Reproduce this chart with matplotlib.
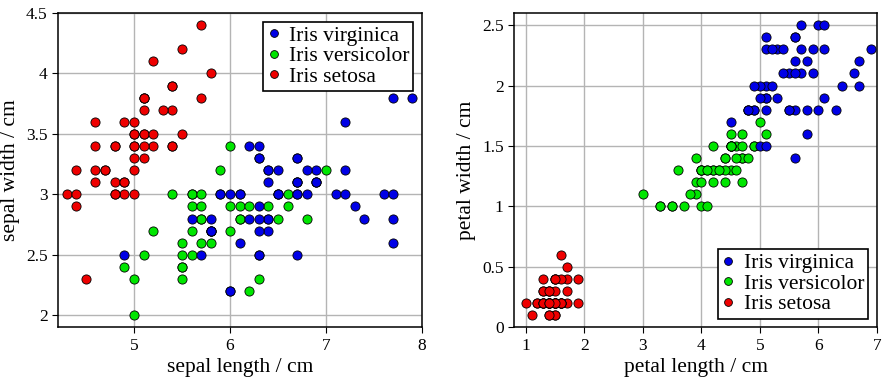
import matplotlib
matplotlib.use("Agg")
import matplotlib.pyplot as plt

# Fisher's iris data
setosa_sl = [5.1, 4.9, 4.7, 4.6, 5.0, 5.4, 4.6, 5.0, 4.4, 4.9, 5.4, 4.8, 4.8, 4.3, 5.8, 5.7, 5.4,
             5.1, 5.7, 5.1, 5.4, 5.1, 4.6, 5.1, 4.8, 5.0, 5.0, 5.2, 5.2, 4.7, 4.8, 5.4, 5.2, 5.5,
             4.9, 5.0, 5.5, 4.9, 4.4, 5.1, 5.0, 4.5, 4.4, 5.0, 5.1, 4.8, 5.1, 4.6, 5.3, 5.0]
setosa_sw = [3.5, 3.0, 3.2, 3.1, 3.6, 3.9, 3.4, 3.4, 2.9, 3.1, 3.7, 3.4, 3.0, 3.0, 4.0, 4.4, 3.9,
             3.5, 3.8, 3.8, 3.4, 3.7, 3.6, 3.3, 3.4, 3.0, 3.4, 3.5, 3.4, 3.2, 3.1, 3.4, 4.1, 4.2,
             3.1, 3.2, 3.5, 3.6, 3.0, 3.4, 3.5, 2.3, 3.2, 3.5, 3.8, 3.0, 3.8, 3.2, 3.7, 3.3]
setosa_pl = [1.4, 1.4, 1.3, 1.5, 1.4, 1.7, 1.4, 1.5, 1.4, 1.5, 1.5, 1.6, 1.4, 1.1, 1.2, 1.5, 1.3,
             1.4, 1.7, 1.5, 1.7, 1.5, 1.0, 1.7, 1.9, 1.6, 1.6, 1.5, 1.4, 1.6, 1.6, 1.5, 1.5, 1.4,
             1.5, 1.2, 1.3, 1.4, 1.3, 1.5, 1.3, 1.3, 1.3, 1.6, 1.9, 1.4, 1.6, 1.4, 1.5, 1.4]
setosa_pw = [0.2, 0.2, 0.2, 0.2, 0.2, 0.4, 0.3, 0.2, 0.2, 0.1, 0.2, 0.2, 0.1, 0.1, 0.2, 0.4, 0.4,
             0.3, 0.3, 0.3, 0.2, 0.4, 0.2, 0.5, 0.2, 0.2, 0.4, 0.2, 0.2, 0.2, 0.2, 0.4, 0.1, 0.2,
             0.2, 0.2, 0.2, 0.1, 0.2, 0.2, 0.3, 0.3, 0.2, 0.6, 0.4, 0.3, 0.2, 0.2, 0.2, 0.2]

versicolor_sl = [7.0, 6.4, 6.9, 5.5, 6.5, 5.7, 6.3, 4.9, 6.6, 5.2, 5.0, 5.9, 6.0, 6.1, 5.6, 6.7, 5.6,
                 5.8, 6.2, 5.6, 5.9, 6.1, 6.3, 6.1, 6.4, 6.6, 6.8, 6.7, 6.0, 5.7, 5.5, 5.5, 5.8, 6.0,
                 5.4, 6.0, 6.7, 6.3, 5.6, 5.5, 5.5, 6.1, 5.8, 5.0, 5.6, 5.7, 5.7, 6.2, 5.1, 5.7]
versicolor_sw = [3.2, 3.2, 3.1, 2.3, 2.8, 2.8, 3.3, 2.4, 2.9, 2.7, 2.0, 3.0, 2.2, 2.9, 2.9, 3.1, 3.0,
                 2.7, 2.2, 2.5, 3.2, 2.8, 2.5, 2.8, 2.9, 3.0, 2.8, 3.0, 2.9, 2.6, 2.4, 2.4, 2.7, 2.7,
                 3.0, 3.4, 3.1, 2.3, 3.0, 2.5, 2.6, 3.0, 2.6, 2.3, 2.7, 3.0, 2.9, 2.9, 2.5, 2.8]
versicolor_pl = [4.7, 4.5, 4.9, 4.0, 4.6, 4.5, 4.7, 3.3, 4.6, 3.9, 3.5, 4.2, 4.0, 4.7, 3.6, 4.4, 4.5,
                 4.1, 4.5, 3.9, 4.8, 4.0, 4.9, 4.7, 4.3, 4.4, 4.8, 5.0, 4.5, 3.5, 3.8, 3.7, 3.9, 5.1,
                 4.5, 4.5, 4.7, 4.4, 4.1, 4.0, 4.4, 4.6, 4.0, 3.3, 4.2, 4.2, 4.2, 4.3, 3.0, 4.1]
versicolor_pw = [1.4, 1.5, 1.5, 1.3, 1.5, 1.3, 1.6, 1.0, 1.3, 1.4, 1.0, 1.5, 1.0, 1.4, 1.3, 1.4, 1.5,
                 1.0, 1.5, 1.1, 1.8, 1.3, 1.5, 1.2, 1.3, 1.4, 1.4, 1.7, 1.5, 1.0, 1.1, 1.0, 1.2, 1.6,
                 1.5, 1.6, 1.5, 1.3, 1.3, 1.3, 1.2, 1.4, 1.2, 1.0, 1.3, 1.2, 1.3, 1.3, 1.1, 1.3]

virginica_sl = [6.3, 5.8, 7.1, 6.3, 6.5, 7.6, 4.9, 7.3, 6.7, 7.2, 6.5, 6.4, 6.8, 5.7, 5.8, 6.4, 6.5,
                7.7, 7.7, 6.0, 6.9, 5.6, 7.7, 6.3, 6.7, 7.2, 6.2, 6.1, 6.4, 7.2, 7.4, 7.9, 6.4, 6.3,
                6.1, 7.7, 6.3, 6.4, 6.0, 6.9, 6.7, 6.9, 5.8, 6.8, 6.7, 6.7, 6.3, 6.5, 6.2, 5.9]
virginica_sw = [3.3, 2.7, 3.0, 2.9, 3.0, 3.0, 2.5, 2.9, 2.5, 3.6, 3.2, 2.7, 3.0, 2.5, 2.8, 3.2, 3.0,
                3.8, 2.6, 2.2, 3.2, 2.8, 2.8, 2.7, 3.3, 3.2, 2.8, 3.0, 2.8, 3.0, 2.8, 3.8, 2.8, 2.8,
                2.6, 3.0, 3.4, 3.1, 3.0, 3.1, 3.1, 3.1, 2.7, 3.2, 3.3, 3.0, 2.5, 3.0, 3.4, 3.0]
virginica_pl = [6.0, 5.1, 5.9, 5.6, 5.8, 6.6, 4.5, 6.3, 5.8, 6.1, 5.1, 5.3, 5.5, 5.0, 5.1, 5.3, 5.5,
                6.7, 6.9, 5.0, 5.7, 4.9, 6.7, 4.9, 5.7, 6.0, 4.8, 4.9, 5.6, 5.8, 6.1, 6.4, 5.6, 5.1,
                5.6, 6.1, 5.6, 5.5, 4.8, 5.4, 5.6, 5.1, 5.1, 5.9, 5.7, 5.2, 5.0, 5.2, 5.4, 5.1]
virginica_pw = [2.5, 1.9, 2.1, 1.8, 2.2, 2.1, 1.7, 1.8, 1.8, 2.5, 2.0, 1.9, 2.1, 2.0, 2.4, 2.3, 1.8,
                2.2, 2.3, 1.5, 2.3, 2.0, 2.0, 1.8, 2.1, 1.8, 1.8, 1.8, 2.1, 1.6, 1.9, 2.0, 2.2, 1.5,
                1.4, 2.3, 2.4, 1.8, 1.8, 2.1, 2.4, 2.3, 1.9, 2.3, 2.5, 2.3, 1.9, 2.0, 2.3, 1.8]

species = ["Iris setosa", "Iris versicolor", "Iris virginica"]
colors = ["#ee0000", "#00e600", "#0000e6"]

plt.rcParams['font.family'] = ['Liberation Serif', 'DejaVu Serif']
plt.rcParams['xtick.direction'] = 'out'
plt.rcParams['ytick.direction'] = 'out'


def panel(ax, xs, ys, xlabel, ylabel, loc):
    # setosa first, virginica last so blue sits on top; legend reversed
    for x, y, name, c in zip(xs, ys, species, colors):
        ax.plot(x, y, 'o', color=c, markersize=6.6, markeredgecolor='black',
                markeredgewidth=0.6, label=name, zorder=3)
    ax.grid(True, color='#b4b4b4', linewidth=1.0, zorder=0)
    ax.set_axisbelow(True)
    ax.set_xlabel(xlabel, fontsize=15.5, labelpad=3)
    ax.set_ylabel(ylabel, fontsize=15.5, labelpad=4)
    ax.tick_params(labelsize=12.5, length=4, width=0.8, top=False, right=False)
    for s in ax.spines.values():
        s.set_linewidth(1.1)
    h, l = ax.get_legend_handles_labels()
    leg = ax.legend(h[::-1], l[::-1], loc=loc, fontsize=15.5, fancybox=False,
                    edgecolor='black', framealpha=1, handlelength=0.6,
                    handletextpad=0.4, borderpad=0.2, labelspacing=0.02,
                    markerscale=0.85, borderaxespad=0.4)
    leg.get_frame().set_linewidth(1.2)


fig = plt.figure(figsize=(8.82, 3.79), dpi=100)
ax1 = fig.add_axes([0.0658, 0.1364, 0.4127, 0.8293])
ax2 = fig.add_axes([0.5828, 0.1364, 0.4115, 0.8293])

panel(ax1, [setosa_sl, versicolor_sl, virginica_sl],
      [setosa_sw, versicolor_sw, virginica_sw],
      "sepal length / cm", "sepal width / cm", "upper right")
ax1.set_xlim(4.21, 8)
ax1.set_ylim(1.9, 4.5)
ax1.set_xticks([5, 6, 7, 8])
ax1.set_xticklabels(["5", "6", "7", "8"])
ax1.set_yticks([2, 2.5, 3, 3.5, 4, 4.5])
ax1.set_yticklabels(["2", "2.5", "3", "3.5", "4", "4.5"])

panel(ax2, [setosa_pl, versicolor_pl, virginica_pl],
      [setosa_pw, versicolor_pw, virginica_pw],
      "petal length / cm", "petal width / cm", "lower right")
ax2.set_xlim(0.8, 7)
ax2.set_ylim(0, 2.6)
ax2.set_xticks([1, 2, 3, 4, 5, 6, 7])
ax2.set_yticks([0, 0.5, 1, 1.5, 2, 2.5])
ax2.set_yticklabels(["0", "0.5", "1", "1.5", "2", "2.5"])

fig.savefig("out.png", dpi=100)
